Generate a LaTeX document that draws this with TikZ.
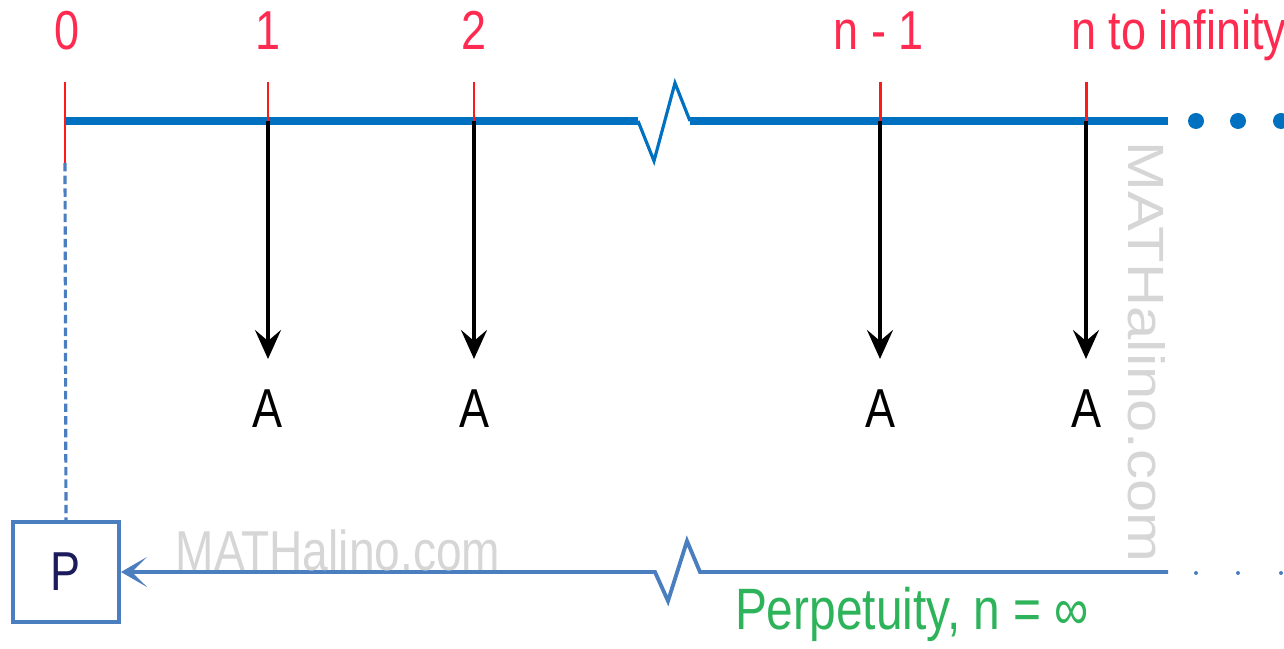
\documentclass[tikz,border=0pt]{standalone}
\usepackage{fontspec}
\setmainfont{Liberation Sans}[FakeStretch=0.82]
\usetikzlibrary{arrows.meta}
\definecolor{lineblue}{HTML}{0070C0}
\definecolor{softblue}{HTML}{4A7EBF}
\definecolor{tickred}{HTML}{FF1A1A}
\definecolor{labelred}{HTML}{FF2A4F}
\definecolor{perpgreen}{HTML}{2DB35A}
\definecolor{marknavy}{HTML}{1C1C5C}
\definecolor{wmgray}{HTML}{D6D6D6}

\begin{document}
\begin{tikzpicture}[x=0.01cm,y=-0.01cm,
  lbl/.style={font=\fontsize{15.6}{18}\selectfont,inner sep=0pt,anchor=base},
  wmark/.style={font=\fontsize{14.5}{17}\selectfont,inner sep=0pt,text=wmgray},
  tick/.style={tickred,line width=0.85pt},
  pay/.style={line width=1.1pt,-{Stealth[length=2.9mm,width=2.6mm,inset=1.1mm]}}]
  \useasboundingbox (0,0) rectangle (1284,649);
  % time line
  \draw[lineblue,line width=2.3pt] (65,121) -- (638,121);
  \draw[lineblue,line width=0.9pt,line join=miter] (638,121) -- (654,161) -- (675,83) -- (690,121);
  \draw[lineblue,line width=2.3pt] (690,121) -- (1168,121);
  \foreach \x in {1196,1238,1281}
    \fill[lineblue] (\x,121) circle (8);
  % periods
  \node[lbl,text=labelred] (l0) at (67,50) {0};
  \node[lbl,text=labelred] (l1) at (268,50) {1};
  \node[lbl,text=labelred] (l2) at (474,50) {2};
  \node[lbl,text=labelred] (ln1) at (879,50) {n - 1};
  \node[lbl,text=labelred] (ln) at (1179,50) {n to infinity};
  \draw[tick] (65,82) -- (65,163);
  \coordinate (p0) at (65,163);
  \foreach \x/\name in {268/1,474/2,880/3,1086/4}{
    \draw[tick] (\x,82) -- (\x,121);
    \coordinate (t\name) at (\x,121);
    \coordinate (e\name) at (\x,359);
    \node[lbl] (a\name) at (\x,428) {A};
    \draw[pay] (t\name) -- (e\name);
  }
  % present worth
  \node[draw=softblue,line width=1.1pt,minimum width=1.06cm,minimum height=1cm,
        inner sep=0pt,font=\fontsize{15.6}{18}\selectfont,text=marknavy] (P) at (66,572) {P};
  \draw[softblue,line width=0.9pt,dash pattern=on 2.4pt off 1.2pt] (p0) -- (P.north);
  \coordinate (b0) at (1168,572);
  \draw[softblue,line width=1.1pt,-{Stealth[length=2.6mm,width=3mm,inset=1.5mm]}]
    (b0) -- (700,572) -- (687,541) -- (668,601) -- (655,572) -- (P.east);
  \foreach \x in {1196,1238,1281}
    \fill[softblue] (\x,573) circle (2);
  \node[lbl,text=perpgreen,font=\fontsize{16.6}{19}\selectfont] (perp) at (912,630) {Perpetuity, n = ∞};
  % watermarks
  \node[wmark,font=\fontsize{16}{18}\selectfont] (wm1) at (338,550) {MATHalino.com};
  \node[wmark,rotate=-90] (wm2) at (1147,352) {\scalebox{1.43}[1]{MATHalino.com}};
\end{tikzpicture}
\end{document}
